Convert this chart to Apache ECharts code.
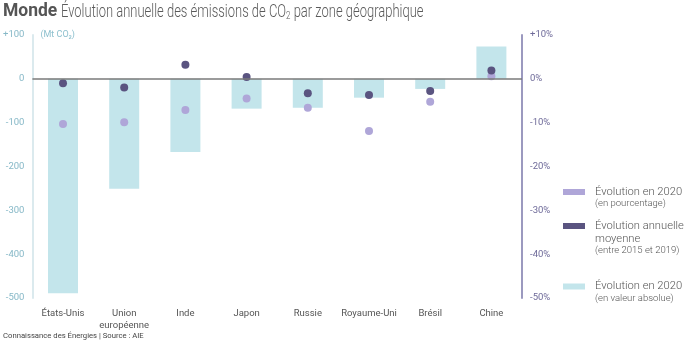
<!DOCTYPE html>
<html><head><meta charset="utf-8">
<script src="https://cdn.jsdelivr.net/npm/echarts@6/dist/echarts.min.js"></script>
<style>html,body{margin:0;padding:0;background:#fff}#c{width:700px;height:342px}</style>
</head><body><div id="c"></div>
<script>
const categories = ['États-Unis','Union\neuropéenne','Inde','Japon','Russie','Royaume-Uni','Brésil','Chine'];
const abs2020 = [-489, -251, -167, -68, -66, -43, -23, 74];
const pct2020 = [-10.3, -9.9, -7.1, -4.5, -6.6, -11.9, -5.2, 0.6];
const avg1519 = [-1.0, -2.0, 3.2, 0.4, -3.3, -3.7, -2.8, 1.9];
const leftTicks = {min: -500, max: 100, interval: 100};
const rightTicks = {min: -50, max: 10, interval: 10};

const C_BAR = '#c3e5eb', C_LIGHT = '#afa6d8', C_DARK = '#5a5480';
const F = 'Roboto, sans-serif';
const chart = echarts.init(document.getElementById('c'));
const legendItems = [
  {y: 192, color: C_LIGHT, lines: [['Évolution en 2020', 11.2], ['(en pourcentage)', 9.5]]},
  {y: 226, color: C_DARK, lines: [['Évolution annuelle', 11.2], ['moyenne', 11.2], ['(entre 2015 et 2019)', 9.5]]},
  {y: 286.5, color: C_BAR, lines: [['Évolution en 2020', 11.2], ['(en valeur absolue)', 9.5]]}
];
const graphics = [];
legendItems.forEach(it => {
  graphics.push({type: 'rect', shape: {x: 563, y: it.y - 3, width: 22, height: 6}, style: {fill: it.color}});
  const offs = it.lines.length === 2 ? [0, 12] : [0, 13.5, 24.5];
  it.lines.forEach((l, i) => {
    graphics.push({type: 'text', x: 595, y: it.y + offs[i], style: {text: l[0], font: '300 ' + l[1] + 'px ' + F, fill: '#555', textVerticalAlign: 'middle', textAlign: 'left'}});
  });
});
graphics.push({type: 'text', x: 3, y: 336, style: {text: 'Connaissance des Énergies | Source : AIE', font: '7.7px ' + F, fill: '#444', textVerticalAlign: 'middle'}});
// title
graphics.push({type: 'text', x: 3, y: 12, style: {text: 'Monde', font: 'bold 17.5px ' + F, fill: '#555', textVerticalAlign: 'middle'}});
graphics.push({type: 'text', x: 61, y: 12, scaleX: 0.72, style: {
  text: '{r|Évolution annuelle des émissions de CO}{s|2}{r| par zone géographique}',
  textVerticalAlign: 'middle',
  rich: {
    r: {font: '300 18px ' + F, fill: '#5a5a5a', lineHeight: 20},
    s: {font: '300 11px ' + F, fill: '#5a5a5a', lineHeight: 20, verticalAlign: 'bottom', padding: [10, 0, 0, 0]}
  }
}});

chart.setOption({
  animation: false,
  grid: {left: 30, right: 178, top: 35, bottom: 44},
  xAxis: {
    type: 'category', data: categories,
    axisLine: {show: false}, axisTick: {show: false},
    axisLabel: {color: '#555', fontFamily: F, fontSize: 9.5, margin: 10, lineHeight: 11.5, interval: 0}
  },
  yAxis: [{
    type: 'value', min: leftTicks.min, max: leftTicks.max, interval: leftTicks.interval,
    name: '(Mt CO₂)', nameLocation: 'end', nameGap: 0,
    nameTextStyle: {color: '#8dc0ce', fontFamily: F, fontSize: 9, align: 'left', verticalAlign: 'middle', padding: [0, 0, 0, 8]},
    axisLine: {show: true, lineStyle: {color: '#dbeaee', width: 2}},
    axisTick: {show: false}, splitLine: {show: false},
    axisLabel: {color: '#86b8c7', fontFamily: F, fontSize: 9.5, margin: 8,
      formatter: v => v > 0 ? '+' + v : String(v)}
  }, {
    type: 'value', min: rightTicks.min, max: rightTicks.max, interval: rightTicks.interval, position: 'right',
    axisLine: {show: true, lineStyle: {color: '#9b99bf', width: 2}},
    axisTick: {show: false}, splitLine: {show: false},
    axisLabel: {color: '#6e6a99', fontFamily: F, fontSize: 9.5, margin: 8,
      formatter: v => (v > 0 ? '+' + v : String(v)) + '%'}
  }],
  series: [{
    type: 'bar', data: abs2020, barWidth: 30, itemStyle: {color: C_BAR}, yAxisIndex: 0,
    markLine: {silent: true, symbol: 'none', label: {show: false},
      lineStyle: {color: '#7a7a7a', width: 1.5, type: 'solid'}, data: [{yAxis: 0}]}
  }, {
    type: 'scatter', data: pct2020, yAxisIndex: 1, symbolSize: 8, itemStyle: {color: C_LIGHT, opacity: 1}, z: 3
  }, {
    type: 'scatter', data: avg1519, yAxisIndex: 1, symbolSize: 8, itemStyle: {color: C_DARK, opacity: 1}, z: 4
  }],
  graphic: graphics
});
</script></body></html>
